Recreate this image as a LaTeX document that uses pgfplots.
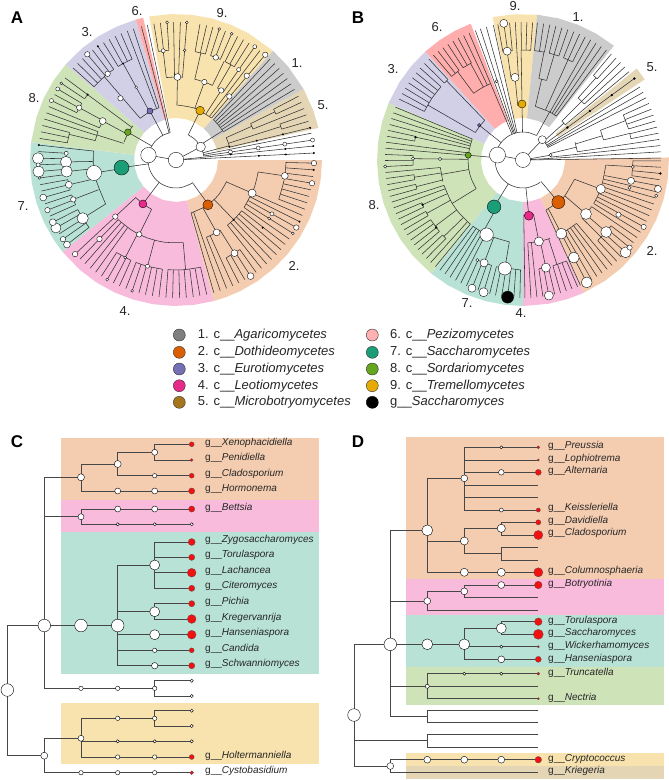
\documentclass[border=0pt]{standalone}
\usepackage{pgfplots}
\usepackage{fontspec}
\setmainfont{Liberation Sans}
\usepgfplotslibrary{polar}
\pgfplotsset{compat=1.18}

% class colours
\definecolor{d1}{HTML}{7F7F7F}\definecolor{d2}{HTML}{D95F02}\definecolor{d3}{HTML}{7570B3}
\definecolor{d4}{HTML}{E7298A}\definecolor{d5}{HTML}{A6761D}\definecolor{d6}{HTML}{FFB0B0}
\definecolor{d7}{HTML}{1B9E77}\definecolor{d8}{HTML}{66A61E}\definecolor{d9}{HTML}{E6AB02}
% sector backgrounds
\definecolor{s1}{HTML}{CCCCCC}\definecolor{s2}{HTML}{F4CDB1}\definecolor{s3}{HTML}{D2D0E7}
\definecolor{s4}{HTML}{F8BBDC}\definecolor{s5}{HTML}{E4D5B5}\definecolor{s6}{HTML}{FFADAD}
\definecolor{s7}{HTML}{B8E2D5}\definecolor{s8}{HTML}{CFE3B8}\definecolor{s9}{HTML}{F8E3AE}
\definecolor{red1}{HTML}{F21010}

\pgfplotsset{
  tree/.style={color=black!80,line width=.55pt,forget plot,mark=none,line join=round},
  ptree/.style={color=black!72,line width=.8pt,forget plot,mark=none},
  px/.style={scale only axis,hide axis,clip=false},
}
% polyline, and set of radial lines (angle list) between two radii
\newcommand\Tr[1]{\addplot[tree,data cs=polar] coordinates {#1};}
\newcommand\Rs[3]{\pgfplotsinvokeforeach{#3}{\addplot[tree,data cs=polar] coordinates {(##1,#1)(##1,#2)};}}
% arc at radius #1 through the listed angles
\newcommand\Ac[2]{\def\pts{}\pgfplotsforeachungrouped \aa in {#2}{\edef\pts{\pts(\aa,#1)}}%
  \edef\tmp{\noexpand\addplot[tree,smooth,data cs=polar] coordinates {\pts};}\tmp}
% sector: outer angles, inner angles
\newcommand\Sec[3]{\def\pts{}\pgfplotsforeachungrouped \aa in {#2}{\edef\pts{\pts(\aa,146)}}%
  \pgfplotsforeachungrouped \aa in {#3}{\edef\pts{\pts(\aa,42)}}%
  \edef\tmp{\noexpand\addplot[fill=#1,draw=none,forget plot,data cs=polar] coordinates {\pts} --cycle;}\tmp}
% nodes in a polar axis: size, (angle,radius) list
\newcommand\Nd[2]{\addplot[only marks,forget plot,data cs=polar,mark=*,mark size=#1,mark options={fill=white,draw=black,line width=.35pt}] coordinates {#2};}
\newcommand\Nc[3]{\addplot[only marks,forget plot,data cs=polar,mark=*,mark size=#2,mark options={fill=#1,draw=black,line width=.35pt}] coordinates {#3};}
% same for the cartesian panels
\newcommand\Tc[1]{\addplot[ptree] coordinates {#1};}
\newcommand\Wn[2]{\addplot[only marks,forget plot,mark=*,mark size=#1,mark options={fill=white,draw=black,line width=.4pt}] coordinates {#2};}
\newcommand\Rn[2]{\addplot[only marks,forget plot,mark=*,mark size=#1,mark options={fill=red1,draw=black!70,line width=.25pt}] coordinates {#2};}
\newcommand\Bx[5]{\addplot[fill=#1,draw=none,forget plot] coordinates {(#2,#4)(#3,#4)(#3,#5)(#2,#5)} --cycle;}
\newcommand\Gl[3]{\node[anchor=west,font=\fontsize{10}{12}\selectfont,text=black!85,inner sep=0pt] at (axis cs:#1,#2) {g\_\_\textit{#3}};}
\newcommand\Cl[3]{\node[font=\fontsize{13}{15}\selectfont,text=black!85,inner sep=0pt] at (axis cs:#1,#2) {#3};}
\newcommand\Pn[3]{\node[font=\fontsize{17}{20}\selectfont\bfseries,inner sep=0pt] at (axis cs:#1,#2) {#3};}
\newcommand\Ll[3]{\node[anchor=west,font=\fontsize{13}{15}\selectfont,text=black!85,inner sep=0pt] at (axis cs:#1,#2) {#3};}

\begin{document}
\begin{tikzpicture}
%%% page axis in reference pixels: panels C, D, legend, labels
\begin{axis}[px,anchor=north west,at={(0,0)},width=669pt,height=780pt,xmin=0,xmax=669,ymin=0,ymax=780,y dir=reverse]
\addplot[fill=white,draw=none,forget plot] coordinates {(0,0)(669,0)(669,780)(0,780)} --cycle;

% panel C
\Bx{s2}{61}{318.5}{437.7}{500}
\Bx{s4}{61}{318.5}{500}{532}
\Bx{s7}{61}{318.5}{532}{674}
\Bx{s9}{61}{318.5}{702.7}{764}
\Tc{(44.3,625.5)(7.3,625.5)(7.3,755.7)(44.3,755.7)}
\Tc{(81,477.3)(44.3,477.3)(44.3,688.3)(154.7,688.3)}
\Tc{(44.3,516.7)(81,516.7)}
\Tc{(44.3,625.5)(117.7,625.5)}
\Tc{(117.7,464)(81,464)(81,491)(191.7,491)}
\Tc{(81,477.3)(81,464)}
\Tc{(154.7,444.3)(191.7,444.3)}
\Tc{(191.7,460)(154.7,460)(154.7,444.3)}
\Tc{(154.7,452.3)(117.7,452.3)(117.7,475.7)(191.7,475.7)}
\Tc{(117.7,452.3)(117.7,464)}
\Tc{(191.7,509)(81,509)(81,524.3)(191.7,524.3)}
\Tc{(154.7,565)(117.7,565)(117.7,665.7)(191.7,665.7)}
\Tc{(191.7,542)(154.7,542)(154.7,588.3)(191.7,588.3)}
\Tc{(154.7,557.3)(191.7,557.3)}
\Tc{(154.7,572.7)(191.7,572.7)}
\Tc{(117.7,611.7)(154.7,611.7)}
\Tc{(191.7,603.7)(154.7,603.7)(154.7,619)(191.7,619)}
\Tc{(117.7,634.7)(191.7,634.7)}
\Tc{(117.7,650.3)(191.7,650.3)}
\Tc{(191.7,680.7)(154.7,680.7)(154.7,696)(191.7,696)}
\Tc{(44.3,738.3)(81,738.3)}
\Tc{(154.7,718.3)(81,718.3)(81,757)(191.7,757)}
\Tc{(81,741.3)(191.7,741.3)}
\Tc{(191.7,710.7)(154.7,710.7)(154.7,726)(191.7,726)}
\Tc{(44.3,738.3)(44.3,772.7)(191.7,772.7)}
\Wn{6.3}{(7.3,690)(44.3,625.5)(81,625.5)(117.7,625.5)}
\Wn{3.5}{(81,477.3)(117.7,464)(44.3,755.7)}
\Wn{3}{(81,516.7)(154.7,452.3)(117.7,491)(154.7,491)(117.7,509)(154.7,509)(81,738.3)}
\Wn{2.2}{(154.7,475.7)(81,688.3)(117.7,688.3)(154.7,688.3)(117.7,718.3)(154.7,718.3)(117.7,757)(154.7,757)(81,772.7)(117.7,772.7)(154.7,772.7)(154.7,650.3)}
\Wn{1.6}{(117.7,524.3)(154.7,524.3)(191.7,524.3)(191.7,680.7)(191.7,696)(191.7,710.7)(191.7,726)(117.7,741.3)(154.7,741.3)(191.7,741.3)}
\Wn{5}{(154.7,565)(154.7,611.7)(154.7,634.7)}
\Wn{3.2}{(154.7,665.7)}
\Rn{2.5}{(191.7,444.3)(191.7,475.7)(191.7,650.3)(191.7,757)}
\Rn{1.5}{(191.7,460)}
\Rn{3.1}{(191.7,491)(191.7,509)(191.7,557.3)(191.7,588.3)(191.7,603.7)(191.7,665.7)}
\Rn{3.5}{(191.7,542)}
\Rn{4.4}{(191.7,572.7)(191.7,619)(191.7,634.7)}
\Rn{1.9}{(191.7,772.7)}
\Gl{205}{442.7}{Xenophacidiella}
\Gl{205}{458.3}{Penidiella}
\Gl{205}{473.7}{Cladosporium}
\Gl{205}{489}{Hormonema}
\Gl{205}{507.7}{Bettsia}
\Gl{205}{539.7}{Zygosaccharomyces}
\Gl{205}{555}{Torulaspora}
\Gl{205}{571}{Lachancea}
\Gl{205}{586.3}{Citeromyces}
\Gl{205}{601.7}{Pichia}
\Gl{205}{617.7}{Kregervanrija}
\Gl{205}{633}{Hanseniaspora}
\Gl{205}{648.7}{Candida}
\Gl{205}{664}{Schwanniomyces}
\Gl{205}{755.7}{Holtermanniella}
\Gl{205}{771.3}{Cystobasidium}

% panel D
\Bx{s2}{406}{664}{437.3}{579}
\Bx{s4}{406}{664}{579}{614.7}
\Bx{s7}{406}{664}{614.7}{667}
\Bx{s8}{406}{664}{667}{704.7}
\Bx{s9}{406}{664}{753}{765.7}
\Bx{s5}{406}{664}{765.7}{778.7}
\Tc{(390.3,644.3)(354,644.3)(354,766)(390.3,766)}
\Tc{(354,740.7)(427.3,740.7)}
\Tc{(427.3,530.3)(390.3,530.3)(390.3,716)(427.3,716)}
\Tc{(390.3,601)(427.3,601)}
\Tc{(390.3,644.3)(464.3,644.3)}
\Tc{(390.3,686.3)(427.3,686.3)}
\Tc{(464.3,478.3)(427.3,478.3)(427.3,572.3)(538.3,572.3)}
\Tc{(427.3,541)(464.3,541)}
\Tc{(538.3,447.3)(464.3,447.3)(464.3,510)(538.3,510)}
\Tc{(464.3,460)(538.3,460)}
\Tc{(464.3,472.3)(538.3,472.3)}
\Tc{(464.3,485)(538.3,485)}
\Tc{(464.3,497.3)(538.3,497.3)}
\Tc{(501.3,528.3)(464.3,528.3)(464.3,553.3)(501.3,553.3)}
\Tc{(538.3,522.3)(501.3,522.3)(501.3,535)(538.3,535)}
\Tc{(538.3,547.3)(501.3,547.3)(501.3,560)(538.3,560)}
\Tc{(464.3,591.3)(427.3,591.3)(427.3,610)(538.3,610)}
\Tc{(538.3,585)(464.3,585)(464.3,597.7)(538.3,597.7)}
\Tc{(501.3,628.3)(464.3,628.3)(464.3,659.3)(538.3,659.3)}
\Tc{(538.3,621.7)(501.3,621.7)(501.3,634.3)(538.3,634.3)}
\Tc{(464.3,646.7)(538.3,646.7)}
\Tc{(538.3,673.7)(427.3,673.7)(427.3,698.7)(538.3,698.7)}
\Tc{(427.3,686.3)(538.3,686.3)}
\Tc{(538.3,710)(427.3,710)(427.3,722.3)(538.3,722.3)}
\Tc{(538.3,734.7)(427.3,734.7)(427.3,747.3)(538.3,747.3)}
\Tc{(538.3,759.7)(390.3,759.7)(390.3,772.3)(538.3,772.3)}
\Wn{6.3}{(354,715)(390.3,644.3)}
\Wn{5.4}{(427.3,530.3)(427.3,644.3)(464.3,644.3)}
\Wn{4}{(464.3,541)(464.3,572.3)(501.3,572.3)}
\Wn{3.4}{(464.3,478.3)(427.3,601)(464.3,591.3)(501.3,585)(390.3,766)(427.3,759.7)(464.3,759.7)(501.3,759.7)(501.3,659.3)}
\Wn{5}{(501.3,628.3)}
\Wn{4.1}{(501.3,528.3)}
\Wn{2.8}{(501.3,472.3)}
\Wn{2}{(501.3,510)(427.3,686.3)}
\Wn{1.5}{(501.3,447.3)(501.3,646.7)(464.3,673.7)(501.3,673.7)}
\Rn{1.5}{(538.3,447.3)(538.3,673.7)}
\Rn{1.1}{(538.3,460)(538.3,646.7)(538.3,698.7)}
\Rn{3}{(538.3,472.3)(538.3,659.3)}
\Rn{2.1}{(538.3,510)}
\Rn{2.6}{(538.3,522.3)}
\Rn{4.6}{(538.3,535)(538.3,572.3)}
\Rn{3.8}{(538.3,585)(538.3,621.7)}
\Rn{5}{(538.3,634.3)}
\Rn{3.3}{(538.3,759.7)}
\Gl{548}{446.3}{Preussia}
\Gl{548}{459.3}{Lophiotrema}
\Gl{548}{471.3}{Alternaria}
\Gl{548}{508}{Keissleriella}
\Gl{548}{520.7}{Davidiella}
\Gl{548}{533.3}{Cladosporium}
\Gl{548}{571}{Columnosphaeria}
\Gl{548}{584.3}{Botryotinia}
\Gl{548}{620.7}{Torulaspora}
\Gl{548}{633.3}{Saccharomyces}
\Gl{548}{646}{Wickerhamomyces}
\Gl{548}{658.7}{Hanseniaspora}
\Gl{548}{673}{Truncatella}
\Gl{548}{698}{Nectria}
\Gl{548}{759}{Cryptococcus}
\Gl{548}{771}{Kriegeria}

% legend
\addplot[only marks,forget plot,mark=*,mark size=6,mark options={fill=d1,draw=black!80,line width=.4pt}] coordinates {(179.3,335)};
\addplot[only marks,forget plot,mark=*,mark size=6,mark options={fill=d2,draw=black!80,line width=.4pt}] coordinates {(179.3,352.3)};
\addplot[only marks,forget plot,mark=*,mark size=6,mark options={fill=d3,draw=black!80,line width=.4pt}] coordinates {(179.3,369)};
\addplot[only marks,forget plot,mark=*,mark size=6,mark options={fill=d4,draw=black!80,line width=.4pt}] coordinates {(179.3,385.7)};
\addplot[only marks,forget plot,mark=*,mark size=6,mark options={fill=d5,draw=black!80,line width=.4pt}] coordinates {(179.3,402.3)};
\addplot[only marks,forget plot,mark=*,mark size=6,mark options={fill=d6,draw=black!80,line width=.4pt}] coordinates {(372.3,335)};
\addplot[only marks,forget plot,mark=*,mark size=6,mark options={fill=d7,draw=black!80,line width=.4pt}] coordinates {(372.3,352.3)};
\addplot[only marks,forget plot,mark=*,mark size=6,mark options={fill=d8,draw=black!80,line width=.4pt}] coordinates {(372.3,369)};
\addplot[only marks,forget plot,mark=*,mark size=6,mark options={fill=d9,draw=black!80,line width=.4pt}] coordinates {(372.3,385.7)};
\addplot[only marks,forget plot,mark=*,mark size=6,mark options={fill=black,draw=black,line width=.4pt}] coordinates {(372.3,402.3)};
\Ll{197.7}{335}{1. c\_\_\textit{Agaricomycetes}}
\Ll{197.7}{352.3}{2. c\_\_\textit{Dothideomycetes}}
\Ll{197.7}{369}{3. c\_\_\textit{Eurotiomycetes}}
\Ll{197.7}{385.7}{4. c\_\_\textit{Leotiomycetes}}
\Ll{197.7}{402.3}{5. c\_\_\textit{Microbotryomycetes}}
\Ll{390}{335}{6. c\_\_\textit{Pezizomycetes}}
\Ll{390}{352.3}{7. c\_\_\textit{Saccharomycetes}}
\Ll{390}{369}{8. c\_\_\textit{Sordariomycetes}}
\Ll{390}{385.7}{9. c\_\_\textit{Tremellomycetes}}
\Ll{390}{402.3}{g\_\_\textit{Saccharomyces}}

% panel letters and clade numbers
\Pn{17}{18}{A}\Pn{358}{18}{B}\Pn{17}{442}{C}\Pn{358}{442}{D}
\Cl{137}{11}{6.}\Cl{87}{32}{3.}\Cl{34}{98}{8.}\Cl{23}{206}{7.}\Cl{125}{311}{4.}
\Cl{294}{266}{2.}\Cl{323}{105}{5.}\Cl{297}{63}{1.}\Cl{222}{13}{9.}
\Cl{437}{27}{6.}\Cl{393}{69}{3.}\Cl{374}{205}{8.}\Cl{467}{303}{7.}\Cl{521}{313}{4.}
\Cl{652}{251}{2.}\Cl{652}{67}{5.}\Cl{578}{17}{1.}\Cl{515}{6}{9.}
\end{axis}

%%% panel A, polar data around the root
\begin{axis}[px,anchor=center,at={(176pt,-160pt)},width=292pt,height=292pt,xmin=-146,xmax=146,ymin=-146,ymax=146]
\Sec{s2}{0,-8,-16,-24,-32,-40,-48,-56,-64,-70,-75}{-75,-60,-45,-30,-15,0}
\Sec{s4}{-75,-83,-91,-99,-107,-115,-123,-131,-141}{-141,-125,-108,-90,-75}
\Sec{s7}{173,181,189,197,205,213,219}{219,205,190,173}
\Sec{s8}{139,147,155,163,173}{173,160,150,139}
\Sec{s3}{106,114,122,130,139}{139,125,106}
\Sec{s6}{103,106}{106,103}
\Sec{s9}{100.6,92,84,76,68,60,48.4}{48.4,62,76,90,100.6}
\Sec{s1}{48.4,40,29}{29,40,48.4}
\Sec{s5}{29,20,12.7}{12.7,20,29}
% backbone
\Tr{(0,0)(170,28)}\Tr{(0,0)(28,28)}
\Ac{28}{102,120,140,160,180,200,220,240,260,280,300,306}
\Ac{28}{64,48,32,15,8.3}
\Rs{28}{138}{11.2,8.3,104.5,102}
\Rs{0}{138}{5.8,2.9}
\Rs{28}{55}{-54,233,188,150,118,64,32,15}
% 2 Dothideomycetes
\Ac{55}{-23,-40,-57,-74.1}
\Rs{55}{83}{-23.5,-46,-60.7}
\Rs{55}{138}{-71.3,-74.1}
\Ac{83}{-8.3,-20,-34.9}\Rs{83}{110}{-8.3}\Ac{110}{-1.3,-10,-20.9}
\Rs{110}{138}{-1.3,-4.1,-6.9,-9.7,-12.5,-15.3,-18.1,-20.9}
\Rs{83}{138}{-23.7,-26.5,-29.3,-32.1,-34.9}
\Ac{83}{-37.7,-45,-51.7}\Rs{83}{138}{-37.7,-40.5,-43.3,-46.1,-48.9,-51.7}
\Ac{83}{-57.9,-63,-68.5}\Rs{83}{110}{-57.9}\Ac{110}{-54.5,-62.9}
\Rs{110}{138}{-54.5,-57.3,-60.1,-62.9}\Rs{83}{138}{-65.7,-68.5}
% 4 Leotiomycetes
\Ac{55}{222.8,233,243.7}\Rs{55}{138}{223}\Rs{55}{83}{243.7}
\Ac{83}{225.9,238,250,262,275}
\Rs{83}{138}{225.9,228.7,231.6,234.4}
\Rs{83}{110}{242.5,255,275}
\Ac{110}{237.3,245.8}\Rs{110}{138}{237.3,240.1,243,245.8}
\Ac{110}{248.7,255,262.9}\Rs{110}{138}{248.7,251.5,254.4,257.2,260.1,262.9}
\Ac{110}{265.8,274,282.9}\Rs{110}{138}{265.8,268.6,271.5,274.3,277.2,280,282.9}
% 7 Saccharomycetes
\Rs{55}{83}{189}
\Ac{83}{173.8,190,212}\Rs{83}{138}{173.8}\Rs{83}{110}{181,186,193,201,212}
\Ac{110}{176.5,182}\Rs{110}{138}{176.5,179.3,182}
\Ac{110}{184.8,187.5}\Rs{110}{138}{184.8,187.5}
\Ac{110}{190.3,195.8}\Rs{110}{138}{190.3,193,195.8}
\Ac{110}{198.5,204}\Rs{110}{138}{198.5,201.3,204}
\Ac{110}{206.8,212,217.8}\Rs{110}{138}{206.8,209.5,212.3,215,217.8}
% 8 Sordariomycetes
\Ac{55}{141.6,150,161}\Rs{55}{110}{143.5}\Ac{110}{143.5,146.2}\Rs{110}{138}{143.5,146.2}
\Rs{55}{83}{152,162.4}
\Ac{83}{151.6,157.2}\Rs{83}{110}{151.6}\Ac{110}{149,154.5}\Rs{110}{138}{149,151.7,154.5}\Rs{83}{138}{157.2}
\Ac{83}{160,162.4,166.5}\Rs{83}{138}{160,162.7}\Rs{83}{110}{166.5}\Ac{110}{165.5,171}\Rs{110}{138}{165.5,168.2,171}
% 3 Eurotiomycetes
\Ac{55}{130.7,118,108}\Rs{55}{138}{110.7,108}
\Rs{55}{110}{130.7,118.7}
\Ac{110}{138.2,130,124.5}\Rs{110}{138}{138.2,135.5,132.7,130,127.2,124.5}
\Ac{110}{121.7,118,113.5}\Rs{110}{138}{121.7,119,116.2,113.5}
% 9 Tremellomycetes
\Ac{55}{89,70,49.7}
\Rs{55}{83}{89,70,57}\Rs{55}{138}{52.5,49.7}
\Ac{83}{96.7,90,85.5}\Rs{83}{110}{96.7}\Ac{110}{99.2,93.7}\Rs{110}{138}{99.2,96.5,93.7}\Rs{83}{138}{91,88.2,85.5}
\Ac{83}{76.9,70,64}\Rs{83}{110}{76.9,64}\Ac{110}{80,74.5}\Rs{110}{138}{80,77.2,74.5}\Ac{110}{71.7,66.2}\Rs{110}{138}{71.7,69,66.2}
\Ac{83}{60,57,55.2}\Rs{83}{110}{60}\Ac{110}{63.5,58}\Rs{110}{138}{63.5,60.7,58}\Rs{83}{138}{55.2}
% 1 Agaricomycetes
\Ac{55}{47,39,32}\Rs{55}{138}{47,44.3,41.6,38.9,36.2,33.5,30.8}
% 5 Microbotryomycetes
\Ac{55}{13.5,18,24}\Rs{55}{83}{24}\Rs{55}{110}{17.7}\Rs{55}{138}{13.5}
\Ac{83}{26,21.9}\Rs{83}{110}{26}\Ac{110}{27.5,24.7}\Rs{110}{138}{27.5,24.7}\Rs{83}{138}{21.9}
\Ac{110}{19.1,16.3}\Rs{110}{138}{19.1,16.3}
% nodes
\Nd{7.7}{(0,0)(170,28)}
\Nd{4.7}{(28,28)}
\Nd{7.5}{(189,83)}
\Nd{5.6}{(181,110)(186,110)(212,110)(179.3,138)(184.8,138)}
\Nd{5}{(209.5,138)}
\Nd{4}{(-23.5,83)}
\Nd{3.4}{(-8.3,110)(-60.7,83)(-57.9,110)(-57.3,138)(193,110)(195.8,138)(206.8,138)(152,83)(89,83)(217.8,138)}
\Nd{2.7}{(-1.3,138)(-9.7,138)(-29.3,138)(223,83)(223,138)(225.9,110)(243.7,83)(201,110)(201.3,138)(215,138)(151.6,110)(70,83)(57,83)(50,83)(50,110)(49.7,138)(130,138)(128.4,110)(132,83)(68.8,110)}
\Nd{2}{(-29.3,110)(255,110)(182,138)(176.5,110)(149,138)(154.5,138)(96.7,110)(8.3,55)(8.3,83)(8.3,110)(8.3,138)(55.3,110)(55.2,138)}
\Nd{1.4}{(-32.1,110)(-32.1,138)(242.5,110)(240.1,138)(251.5,138)(187.5,138)(146.2,138)(66.2,138)(71.7,138)(85.5,110)(85.5,138)(93.7,138)(118.7,83)}
\Nc{black}{.8}{(-4.1,138)(-26.5,138)(-46,83)(-38,110)(173.8,138)(5.8,55)(5.8,110)(5.8,138)(2.9,83)(2.9,110)(2.9,138)(143.5,110)(124.5,138)(118.7,110)(13.5,138)(13.5,83)(13.5,110)(14,55)}
\Nc{d2}{5}{(-54.6,55)}\Nc{d4}{4}{(233,55)}\Nc{d7}{7.4}{(188,55)}\Nc{d8}{3.3}{(150,55.6)}
\Nc{d3}{3}{(118,55.5)}\Nc{d9}{4.3}{(64,55)}
\end{axis}

%%% panel B
\begin{axis}[px,anchor=center,at={(523pt,-160pt)},width=292pt,height=292pt,xmin=-146,xmax=146,ymin=-146,ymax=146]
\Sec{s2}{1,-8,-16,-24,-32,-40,-48,-56,-65.6}{-65.6,-50,-35,-20,-5,1}
\Sec{s4}{-65.6,-72,-80,-90}{-90,-80,-65.6}
\Sec{s7}{231,239,247,255,263,270}{270,250,231}
\Sec{s8}{157,165,173,181,189,197,205,213,221,231}{231,215,200,185,170,157}
\Sec{s3}{132,140,148,157}{157,145,132}
\Sec{s6}{111,118,125,132}{132,120,111}
\Sec{s9}{102,94,84.5}{84.5,94,102}
\Sec{s1}{84.5,76,68,60,51.5}{51.5,68,84.5}
\Sec{s5}{38.8,33.5}{33.5,38.8}
% backbone
\Tr{(0,0)(169,28)}\Tr{(0,0)(46.5,28)}\Tr{(0,0)(10,28)}
\Ac{28}{61,80,100,120,140,160,180,200,220,240,260,280,300,308}
\Ac{28}{42,34,26.8}
\Rs{0}{138}{3.4,0.8}
\Rs{28}{138}{36.2,32,29.4,26.8,6,110.2,108,105.4,102.4,113}
\Rs{28}{55}{61,91,141.5,175,238.3,276,-50,42,13.5}
% right-hand fan
\Ac{55}{39.8,45}\Rs{55}{138}{39.8}\Rs{55}{83}{45}
\Ac{83}{48.4,42.4}\Rs{83}{138}{45,42.4}\Rs{83}{110}{48.4}\Ac{110}{50.2,47.6}\Rs{110}{138}{50.2,47.6}
\Ac{28}{13.5,6}
\Ac{55}{19,8.6}\Rs{55}{138}{8.6}\Rs{55}{83}{17}
\Ac{83}{21,14}\Rs{83}{110}{21,14}
\Ac{110}{24.2,16.4}\Rs{110}{138}{24.2,21.6,19,16.4}
\Ac{110}{13.8,11.2}\Rs{110}{138}{13.8,11.2}
% 1 Agaricomycetes
\Ac{55}{77,61,52.8}\Rs{55}{83}{77}\Rs{55}{110}{65.8}\Rs{55}{138}{60.6,58,55.4,52.8}
\Ac{83}{79,73.5}\Rs{83}{110}{79,73.5}
\Ac{110}{84,78.8}\Rs{110}{138}{84,81.4,78.8}
\Ac{110}{76.2,71}\Rs{110}{138}{76.2,73.6,71}
\Ac{110}{68.4,63.2}\Rs{110}{138}{68.4,65.8,63.2}
% 9 Tremellomycetes
\Ac{55}{95.5,91}\Rs{55}{83}{95.5}\Rs{55}{110}{91}
\Ac{83}{98.3,93.2}\Rs{83}{110}{98.3}\Rs{83}{138}{93.2}
\Ac{110}{100.5,95.6}\Rs{110}{138}{100.5,98,95.6}
\Ac{110}{90.8,86}\Rs{110}{138}{90.8,88.4,86}
% 6 Pezizomycetes
\Ac{83}{113,120,126.5}
\Rs{83}{138}{115.5}
\Rs{83}{110}{126.5,118.5}
\Ac{110}{130.5,125.5}\Rs{110}{138}{130.5,128,125.5}
\Ac{110}{123,118}\Rs{110}{138}{123,120.5,118}
% 3 Eurotiomycetes
\Ac{55}{134,141.5,150}\Rs{55}{110}{134,150}
\Ac{110}{133,135.6}\Rs{110}{138}{133,135.6}
\Ac{110}{138.2,146,153.8}\Rs{110}{138}{138.2,140.8,143.4,146,148.6,151.2,153.8}
% 8 Sordariomycetes
\Ac{55}{157.5,175,190,200,211.5}
\Rs{55}{138}{157.5,160,162.5,165.1,172.6,175.1}
\Rs{55}{110}{168,179.3}
\Ac{110}{167.6,170.1}\Rs{110}{138}{167.6,170.1}
\Ac{110}{177.7,182.7}\Rs{110}{138}{177.7,180.2,182.7}
\Rs{55}{83}{190,211.5}
\Ac{83}{185.2,195}\Rs{83}{138}{185.2}\Rs{83}{110}{189,194}
\Ac{110}{187.7,190.3}\Rs{110}{138}{187.7,190.3}
\Ac{110}{192.8,195.3}\Rs{110}{138}{192.8,195.3}
\Ac{83}{197.8,210,220,230.6}\Rs{83}{138}{197.8,200.3,228,230.6}
\Rs{83}{110}{204,209,217,224}
\Ac{110}{202.9,205.4}\Rs{110}{138}{202.9,205.4}
\Ac{110}{207.9,210.4}\Rs{110}{138}{207.9,210.4}
\Ac{110}{212.9,220.5}\Rs{110}{138}{212.9,215.5,218,220.5}
\Ac{110}{223,225.5}\Rs{110}{138}{223,225.5}
% 7 Saccharomycetes
\Rs{55}{83}{241}
\Ac{83}{233,245,260.5}\Rs{83}{138}{233,235.6,238.1,240.7,243.2}
\Rs{83}{110}{249.3,260.5}
\Ac{110}{245.8,253.4}\Rs{110}{138}{245.8,248.3,250.9,253.4}
\Ac{110}{256,268.7}\Rs{110}{138}{256,258.5,261.1,263.6,266.2,268.7}
% 4 Leotiomycetes
\Ac{55}{270.8,276,281}\Rs{55}{138}{270.8}\Rs{55}{83}{281}
\Ac{83}{273.3,281,289}\Rs{83}{138}{273.3,275.8}\Rs{83}{110}{282,288}
\Ac{110}{278.3,283.3}\Rs{110}{138}{278.3,280.8,283.3}
\Ac{110}{285.8,293.3}\Rs{110}{138}{285.8,288.3,290.8,293.3}
% 2 Dothideomycetes
\Ac{55}{-20.5,-40,-50,-65}
\Rs{55}{83}{-20.5,-40.6,-62.5}
\Rs{55}{138}{-65.4}
\Ac{83}{-3.5,-20,-31.5}\Rs{83}{110}{-3.5}
\Ac{110}{-0.4,-8.2}\Rs{110}{138}{-0.4,-3,-5.6,-8.2}
\Rs{83}{138}{-10.8,-13.4,-16,-18.6,-21.2,-23.8,-26.4,-29,-31.6}
\Ac{83}{-34.2,-40.6,-44.5}\Rs{83}{110}{-40.9}\Rs{83}{138}{-34.2,-44.6}
\Ac{110}{-36.8,-47.2}\Rs{110}{138}{-36.8,-39.4,-42,-47.2}
\Ac{83}{-49.8,-60.2}\Rs{83}{138}{-49.8,-52.4,-55,-57.6,-60.2}
\Rs{83}{138}{-62.5}
% nodes
\Nd{7.5}{(0,0)}
\Nd{8}{(169,26)}
\Nd{4}{(46.5,28)}
\Nd{6.7}{(244,83)}
\Nd{6.5}{(260.5,110)}
\Nd{5.4}{(-62.5,83)(-62.5,110)(-62.5,138)(-40.6,83)(-40.9,110)(-42,138)}
\Nd{4.5}{(-20.4,83)(281,83)(280.8,138)(282,110)(253.4,138)}
\Nd{4}{(248.3,138)(249.3,110)(95.5,83)(98.3,110)(98,138)}
\Nd{3.5}{(-10.9,110)(-12.1,138)}
\Nd{2.6}{(-29.8,110)(-29,138)(-39.4,138)}
\Nd{1.6}{(-14.6,110)(-15,138)(-3.6,110)(245.5,110)(179.3,83)(179.3,110)(182.7,138)(108.6,83)(10,28)}
\Nc{black}{1}{(36.2,55)(36.2,83)(36.2,110)(36.2,138)(-5.6,138)(168,110)(217.8,110)(204,110)}
\Nc{black}{6}{(263.6,138)}
\Nc{d2}{6.5}{(-50,55)}\Nc{d4}{4.5}{(276,56)}\Nc{d7}{6.8}{(238.3,55)}\Nc{d8}{3}{(175,55)}
\Nc{d3}{1.7}{(141.5,56)}\Nc{d9}{4}{(91,56)}
\end{axis}
\end{tikzpicture}
\end{document}
